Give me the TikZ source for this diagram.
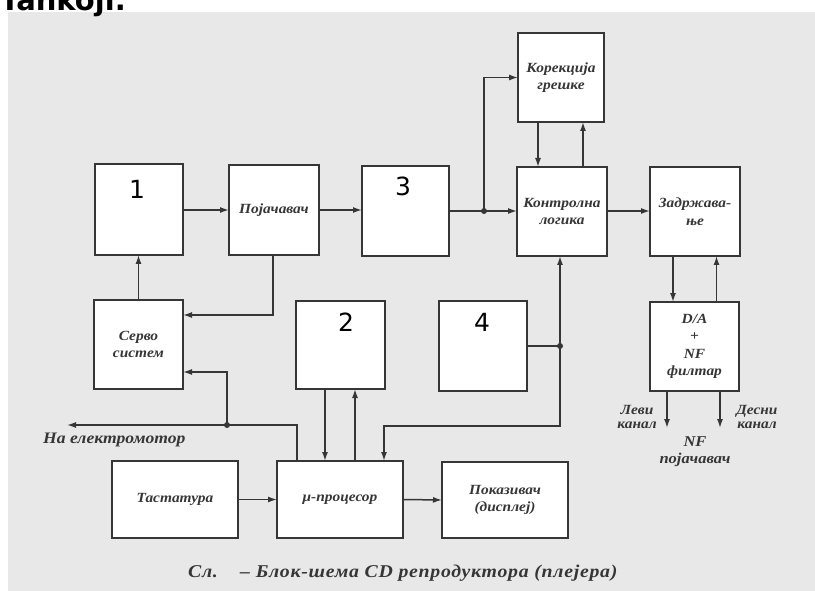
\documentclass[tikz,border=0pt]{standalone}
\usepackage{fontspec}
\setmainfont{Liberation Serif}
\newfontfamily\lbl[Script=Cyrillic,Language=Serbian,FakeStretch=1.1]{Liberation Serif}
\newfontfamily\capf[Script=Cyrillic,Language=Serbian,FakeStretch=1.1,LetterSpace=4]{Liberation Serif}
\newfontfamily\numf{DejaVu Sans}
\usetikzlibrary{arrows.meta}
\definecolor{ink}{HTML}{363636}
\definecolor{page}{HTML}{E8E8E8}
\begin{document}
\begin{tikzpicture}[x=1pt,y=-1pt,
  bx/.style 2 args={draw=ink,fill=white,line width=1.8pt,inner sep=0pt,outer sep=0pt,
    minimum width=#1pt,minimum height=#2pt,align=center,
    font=\lbl\bfseries\itshape\fontsize{14}{17.5}\selectfont,text=ink},
  lab/.style={inner sep=0pt,align=center,font=\lbl\bfseries\itshape\fontsize{14}{14}\selectfont,text=ink},
  num/.style={inner sep=0pt,font=\numf\fontsize{25}{25}\selectfont,text=black},
  con/.style={draw=ink,line width=1.5pt},
  arr/.style={con,-{Latex[length=9pt,width=6pt]}},
  arrb/.style={con,{Latex[length=9pt,width=6pt]}-{Latex[length=9pt,width=6pt]}},
  dot/.style={circle,fill=ink,inner sep=0pt,minimum size=6pt}]
\useasboundingbox (0,0) rectangle (815,591);
\fill[page] (8,12) rectangle (815,591);
\node[anchor=base west,inner sep=0pt,font=\fontspec{DejaVu Sans}\bfseries\fontsize{29}{29}\selectfont] (ttl) at (0,11) {Tankoji.};

% boxes
\node[bx={88}{91}] (b1) at (139,209.5) {};
\node[bx={90}{90}] (poj) at (274,210) {Појачавач};
\node[bx={87}{90}] (b3) at (405.5,211) {};
\node[bx={90}{89}] (kon) at (562,211.5) {Контролна\\логика};
\node[bx={90}{89}] (zad) at (695,211.5) {Задржава-\\ње};
\node[bx={86}{89}] (kor) at (561,77.5) {Корекција\\грешке};
\node[bx={89}{89}] (servo) at (138.5,344.5) {Серво\\систем};
\node[bx={89}{88}] (b2) at (340.5,345) {};
\node[bx={88}{90}] (b4) at (483,346) {};
\node[bx={89}{89}] (da) at (694.5,346.5) {D/A\\+\\NF\\филтар};
\node[bx={126}{77}] (tast) at (175,499.5) {Тастатура};
\node[bx={126}{77}] (mup) at (340,499.5) {μ-процесор};
\node[bx={126}{76}] (pok) at (505,500) {Показивач\\(дисплеј)};

% numbers
\node[num] (n1) at (137,189) {1};
\node[num] (n2) at (346,322) {2};
\node[num] (n3) at (403,186) {3};
\node[num] (n4) at (482,322) {4};

% coordinates
\coordinate (j1) at (484,211);
\coordinate (k2) at (560,426);
\coordinate (j3) at (227,425);
\coordinate (mot) at (67,425);
\coordinate (lk) at (667,428);
\coordinate (dk) at (720,428);

% top row
\draw[arr] (b1.east |- 0,210) -- (poj.west |- 0,210);
\draw[arr] (poj.east |- 0,210) -- (b3.west |- 0,210);
\draw[arr] (b3.east |- j1) -- (kon.west |- j1);
\draw[arr] (j1) |- (kor.west);
\node[dot] (d1) at (j1) {};
\draw[arr] ([xshift=-23pt]kor.south) -- ([xshift=-23pt]kor.south |- kon.north);
\draw[arr] ([xshift=21pt]kon.north) -- ([xshift=21pt]kon.north |- kor.south);
\draw[arr] (kon.east |- j1) -- (zad.west |- j1);
\draw[arr] ([xshift=-22pt]zad.south) -- ([xshift=-22pt]zad.south |- da.north);
\draw[arr] ([xshift=22pt]da.north) -- ([xshift=22pt]da.north |- zad.south);
\draw[arr] (lk |- da.south) -- (lk);
\draw[arr] (dk |- da.south) -- (dk);

% servo loop
\draw[arr] ([xshift=-1pt]poj.south) |- ([yshift=29.5pt]servo.east);
\draw[arr] (servo.north) -- (servo.north |- b1.south);
\draw[arr] ([xshift=-43pt]mup.north) |- (mot);
\draw[arr] (j3) |- ([yshift=-27.5pt]servo.east);
\node[dot] (d3) at (j3) {};

% box 2 and mu-processor
\draw[arr] ([xshift=-15.5pt]b2.south) -- ([xshift=-15.5pt]b2.south |- mup.north);
\draw[arr] ([xshift=15pt]mup.north) -- ([xshift=15pt]mup.north |- b2.south);

% control logic <-> mu-processor, box 4
\draw[arrb] ([xshift=44pt]mup.north) |- (k2) -- (k2 |- kon.south);
\draw[con] (b4.east) -- (b4.east -| k2);
\node[dot] (d2) at (b4.east -| k2) {};

% bottom row
\draw[arr] (tast.east) -- (mup.west);
\draw[arr] (mup.east) -- (pok.west);

% labels
\node[lab] (lv) at (637,417) {Леви\\канал};
\node[lab] (ds) at (757,417) {Десни\\канал};
\node[lab,font=\lbl\bfseries\itshape\fontsize{15}{17}\selectfont] (nf) at (695,452) {NF\\појачавач};
\node[lab,anchor=west,font=\lbl\bfseries\itshape\fontsize{16}{16}\selectfont] (em) at (43,440) {На електромотор};
\node[lab,anchor=base west,font=\capf\bfseries\itshape\fontsize{18}{18}\selectfont] (sl) at (188,577) {Сл.};
\node[lab,anchor=base west,font=\capf\bfseries\itshape\fontsize{18}{18}\selectfont] (cap) at (240,577) {– Блок-шема CD репродуктора (плејера)};
\end{tikzpicture}
\end{document}
